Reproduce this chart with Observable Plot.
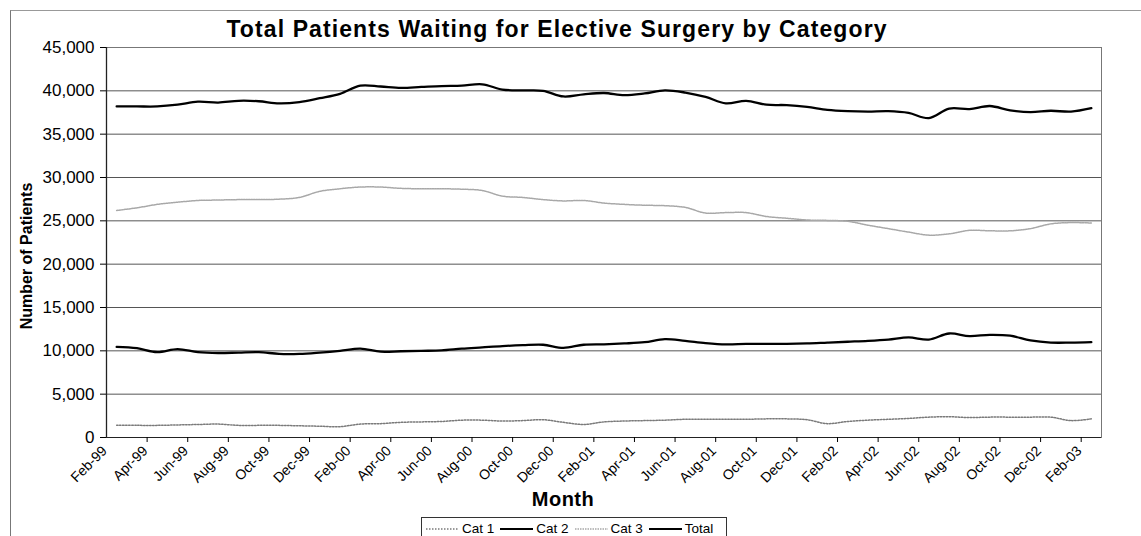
<!DOCTYPE html>
<html><head><meta charset="utf-8">
<script src="https://cdn.jsdelivr.net/npm/d3@7"></script>
<script src="https://cdn.jsdelivr.net/npm/@observablehq/plot@0.6"></script>
<style>
body{margin:0;background:#fff;font-family:"Liberation Sans",Arial,sans-serif;color:#000;}
#wrap{position:relative;width:1141px;height:536px;overflow:hidden;}
#frame{position:absolute;left:10px;top:10px;width:1140px;height:540px;border-left:1px solid #777;border-top:1px solid #999;}
#chart{position:absolute;left:0;top:0;}
#title{position:absolute;left:0;width:1114px;top:18px;text-align:center;font-weight:bold;font-size:23px;line-height:23px;letter-spacing:1.1px;white-space:nowrap;}
#month{position:absolute;left:0;width:1126px;top:489px;text-align:center;font-weight:bold;font-size:20px;line-height:20px;letter-spacing:0.5px;}
#ylab{position:absolute;left:27px;top:256px;transform:translate(-50%,-50%) rotate(-90deg);font-weight:bold;font-size:16px;letter-spacing:0px;white-space:nowrap;}
#legend{position:absolute;left:421px;top:517px;width:306px;height:30px;border:1px solid #333;display:flex;flex-wrap:nowrap;align-items:flex-start;padding:3px 0 0 4px;box-sizing:border-box;font-size:13.5px;line-height:16px;white-space:nowrap;}
#legend .it{display:flex;align-items:center;margin-right:6px;flex-shrink:0;white-space:nowrap;}
#legend svg{margin-right:3px;flex-shrink:0;}
</style></head>
<body>
<div id="wrap">
  <div id="frame"></div>
  <div id="chart"></div>
  <div id="title">Total Patients Waiting for Elective Surgery by Category</div>
  <div id="ylab">Number of Patients</div>
  <div id="month">Month</div>
  <div id="legend"></div>
</div>
<script>
const months = ["Feb-99","Mar-99","Apr-99","May-99","Jun-99","Jul-99","Aug-99","Sep-99","Oct-99","Nov-99","Dec-99","Jan-00",
"Feb-00","Mar-00","Apr-00","May-00","Jun-00","Jul-00","Aug-00","Sep-00","Oct-00","Nov-00","Dec-00","Jan-01",
"Feb-01","Mar-01","Apr-01","May-01","Jun-01","Jul-01","Aug-01","Sep-01","Oct-01","Nov-01","Dec-01","Jan-02",
"Feb-02","Mar-02","Apr-02","May-02","Jun-02","Jul-02","Aug-02","Sep-02","Oct-02","Nov-02","Dec-02","Jan-03","Feb-03"];

const cat1 = [1400,1400,1400,1450,1500,1550,1400,1400,1400,1350,1300,1250,
1550,1600,1750,1800,1850,2000,2000,1900,1950,2050,1750,1500,
1800,1900,1950,2000,2100,2100,2100,2100,2150,2150,2050,1600,
1850,2000,2100,2200,2350,2400,2300,2350,2350,2350,2350,1950,2150];

const cat2 = [10450,10300,9850,10200,9850,9750,9800,9850,9650,9650,9800,10000,
10250,9900,9950,10000,10050,10250,10400,10550,10650,10700,10350,10700,
10750,10850,11000,11350,11150,10900,10750,10800,10800,10800,10850,10950,
11050,11150,11300,11550,11300,12000,11700,11850,11750,11200,10950,10950,11000];

const cat3 = [26200,26500,26900,27150,27350,27400,27450,27450,27500,27700,28400,28700,
28900,28900,28750,28700,28700,28650,28500,27850,27700,27450,27300,27350,
27050,26900,26800,26750,26550,25900,25950,25950,25500,25300,25100,25050,
24950,24500,24100,23700,23350,23500,23900,23850,23850,24100,24650,24800,24750];

const total = [38200,38200,38200,38400,38750,38650,38850,38800,38550,38700,39150,39650,
40600,40500,40350,40450,40550,40600,40750,40150,40050,40000,39350,39600,
39750,39500,39700,40050,39800,39300,38550,38850,38400,38350,38150,37800,
37650,37600,37650,37450,36850,37950,37900,38250,37750,37550,37700,37600,38000];

const seriesNames = ["Cat 1","Cat 2","Cat 3","Total"];
const seriesValues = [cat1, cat2, cat3, total];
const yTicks = [0,5000,10000,15000,20000,25000,30000,35000,40000,45000];

const styles = {
  "Cat 1": {stroke:"#7a7a7a", width:1.5, dash:"1.5,1.5"},
  "Cat 2": {stroke:"#000", width:2.3, dash:null},
  "Cat 3": {stroke:"#a8a8a8", width:1.5, dash:"1.5,1"},
  "Total": {stroke:"#000", width:2.3, dash:null}
};

const rows = seriesNames.flatMap((name, k) => seriesValues[k].map((v, i) => ({name, i, v})));
const n = months.length;
const labelIdx = d3.range(0, n, 2);
const boundaries = d3.range(-0.5 + 2, n - 0.5, 2);
const xDomain = [-0.5, n - 0.5];

const lineMarks = seriesNames.map(name => Plot.line(rows.filter(r => r.name === name), {
  x: "i", y: "v", stroke: styles[name].stroke, strokeWidth: styles[name].width,
  strokeDasharray: styles[name].dash, curve: "catmull-rom"
}));

const chart = Plot.plot({
  width: 1141, height: 536,
  marginLeft: 106, marginRight: 40, marginTop: 47, marginBottom: 99,
  style: {fontFamily: "Liberation Sans, Arial, sans-serif", background: "transparent", color: "#000"},
  x: {domain: xDomain},
  y: {domain: [0, 45000]},
  marks: [
    Plot.ruleY(yTicks.slice(1), {stroke: "#555", strokeWidth: 1}),
    Plot.frame({stroke: "#777"}),
    ...lineMarks,
    Plot.ruleY([0], {stroke: "#222"}),
    Plot.ruleX([xDomain[0]], {stroke: "#222", strokeWidth: 1.3}),
    Plot.axisY({ticks: yTicks, tickFormat: d3.format(","), tickSize: 6, tickPadding: 6, fontSize: 17, label: null}),
    Plot.axisX({ticks: boundaries, tickSize: 5, tickFormat: () => "", label: null}),
    Plot.axisX({ticks: labelIdx, tickFormat: i => months[i], tickSize: 0, tickPadding: 11, tickRotate: -45, dx: -12, fontSize: 14, label: null})
  ]
});
document.getElementById("chart").appendChild(chart);

const legend = document.getElementById("legend");
seriesNames.forEach(name => {
  const s = styles[name];
  const it = document.createElement("div");
  it.className = "it";
  it.innerHTML = `<svg width="33" height="10"><line x1="0" x2="33" y1="5" y2="5" stroke="${s.stroke}" stroke-width="${Math.min(s.width,2)}" ${s.dash ? `stroke-dasharray="${s.dash}"` : ""}/></svg><span>${name}</span>`;
  legend.appendChild(it);
});
</script>
</body></html>
